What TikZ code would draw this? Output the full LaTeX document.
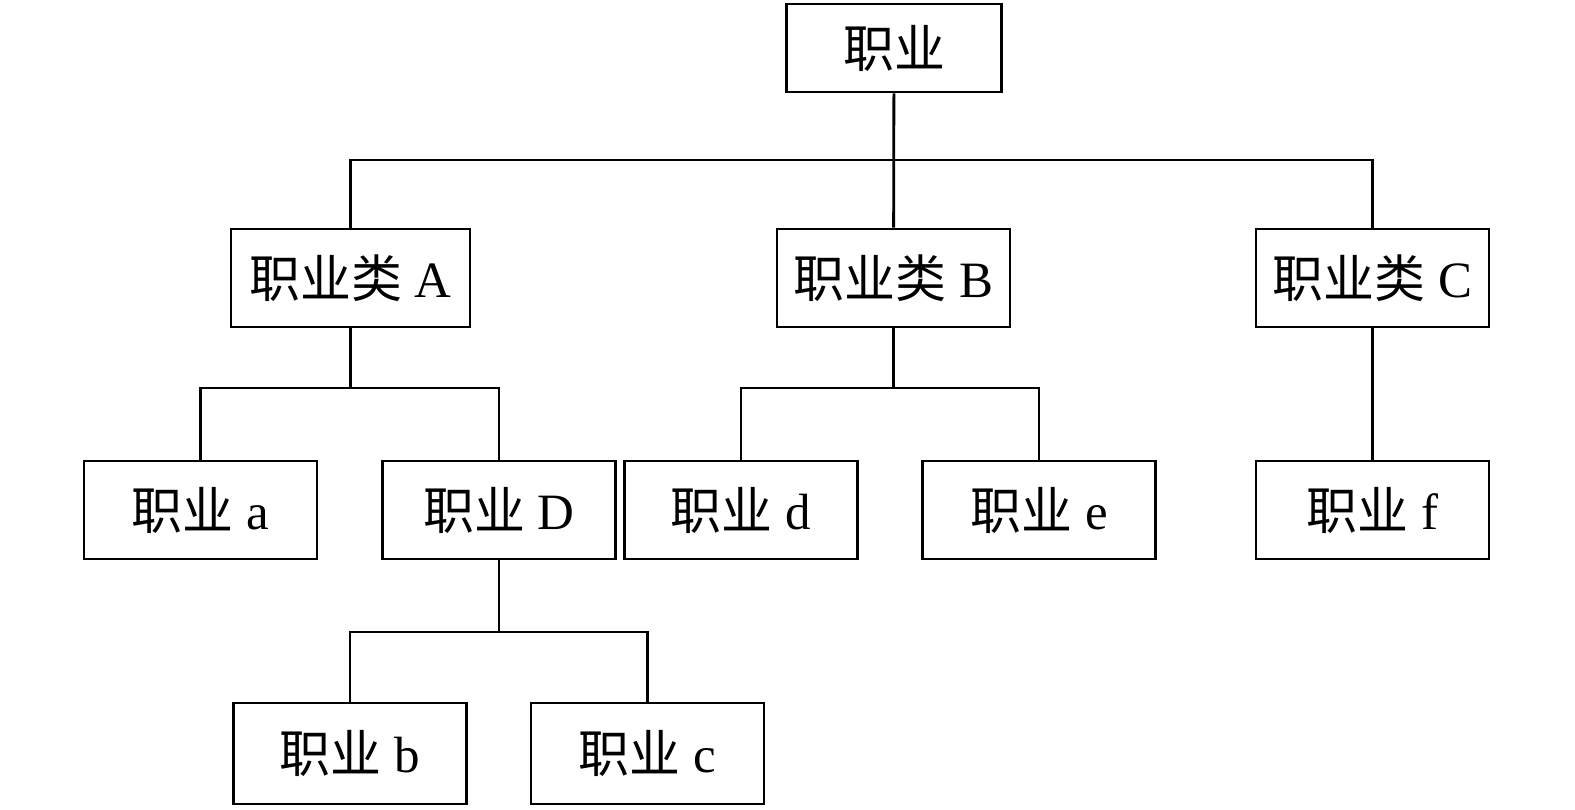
\documentclass[tikz,border=0pt]{standalone}
\usepackage{fontspec}
\setmainfont{Liberation Serif}
\newfontfamily\cjk{Noto Sans CJK SC}
\usepackage{tikz}
\usetikzlibrary{positioning}
\tikzstyle{jobbox} = [rectangle, draw=black, line width=1.6pt, minimum height=1.96cm, minimum width=4.66cm, inner sep=0pt, text centered, font=\fontsize{29}{32}\selectfont]
\tikzstyle{link} = [line width=1.6pt, color=black]
\newcommand{\zy}[1]{{\cjk 职业}#1}

\begin{document}
\begin{tikzpicture}[x=0.02cm, y=-0.02cm]
\useasboundingbox (0,0) rectangle (1575,810);
% Top
\node[jobbox, minimum width=4.3cm, minimum height=1.76cm] (job) at (894,48) {\zy{}};

% Classes
\node[jobbox, minimum width=4.78cm] (clsA) at (350.5,278) {\zy{{\cjk 类}} A};
\node[jobbox] (clsB) at (893.5,278) {\zy{{\cjk 类}} B};
\node[jobbox] (clsC) at (1372.5,278) {\zy{{\cjk 类}} C};

% Jobs
\node[jobbox] (joba) at (200.5,510) {\zy{} a};
\node[jobbox] (jobD) at (499,510) {\zy{} D};
\node[jobbox] (jobd) at (741,510) {\zy{} d};
\node[jobbox] (jobe) at (1039,510) {\zy{} e};
\node[jobbox] (jobf) at (1372.5,510) {\zy{} f};
\node[jobbox, minimum height=2.02cm] (jobb) at (350,753.5) {\zy{} b};
\node[jobbox, minimum height=2.02cm] (jobc) at (647.5,753.5) {\zy{} c};

% Branch points
\coordinate (top) at (894,160);
\coordinate (splitA) at (350.5,388);
\coordinate (splitB) at (893.5,388);
\coordinate (splitD) at (499,632);

% Lines
\draw[link] (job) -- (clsB);
\draw[link] (clsA.north) |- (top) -| (clsC.north);
\draw[link] (clsA) -- (splitA);
\draw[link] (joba.north) |- (splitA) -| (jobD.north);
\draw[link] (clsB) -- (splitB);
\draw[link] (jobd.north) |- (splitB) -| (jobe.north);
\draw[link] (clsC) -- (jobf);
\draw[link] (jobD) -- (splitD);
\draw[link] (jobb.north) |- (splitD) -| (jobc.north);
\end{tikzpicture}
\end{document}
